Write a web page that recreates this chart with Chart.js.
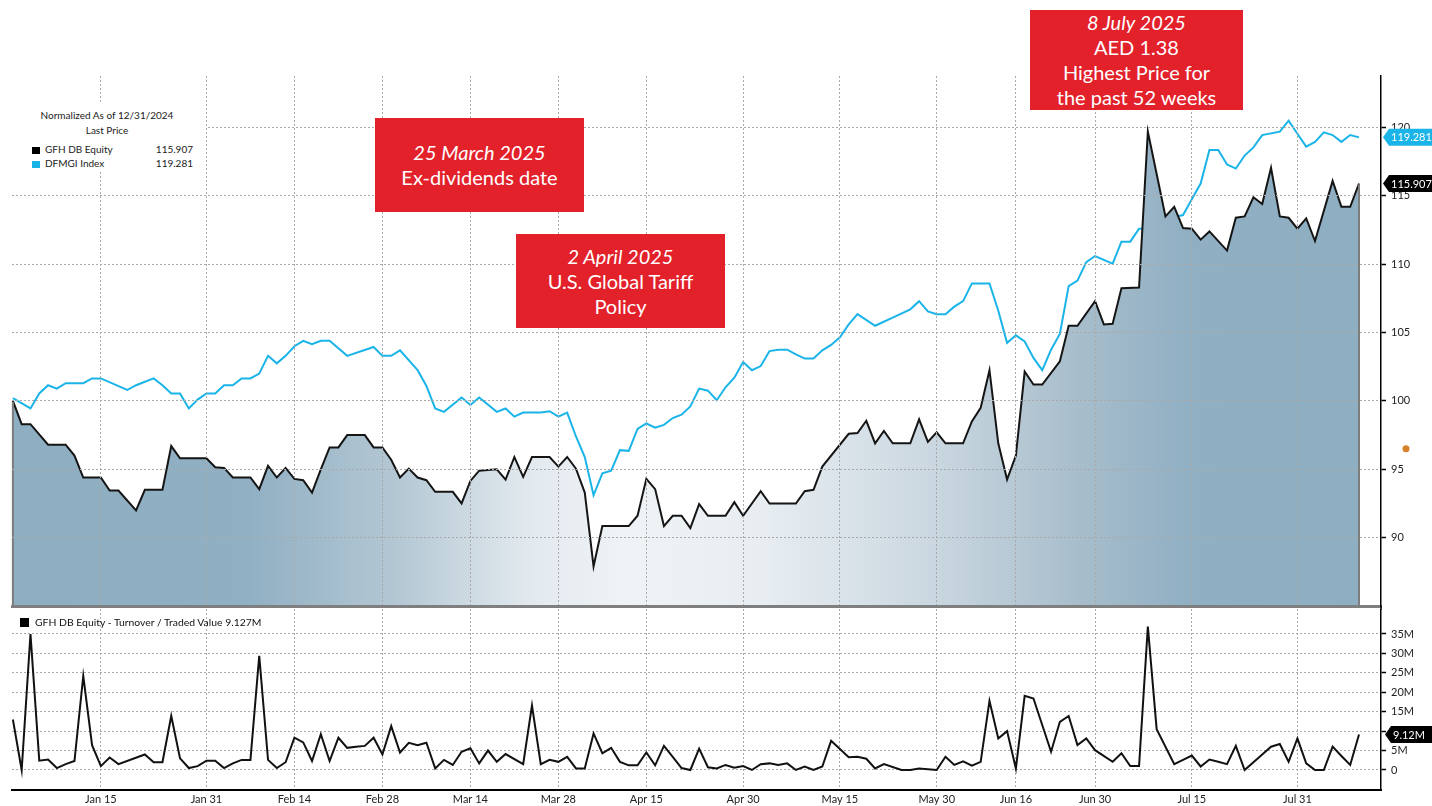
<!DOCTYPE html>
<html>
<head>
<meta charset="utf-8">
<script src="https://cdn.jsdelivr.net/npm/chart.js@4.4.1/dist/chart.umd.min.js"></script>
<style>
  body { margin: 0; background: #fff; width: 1432px; height: 806px; overflow: hidden; position: relative; font-family: Lato, "Open Sans", sans-serif; }
  canvas { position: absolute; left: 0; }
  #main { top: 0; z-index: 2; }
  #vol { top: 609px; z-index: 1; }
  .note { position: absolute; z-index: 5; background: #e2212b; color: #fff; font-size: 20px; line-height: 25px; text-align: center; display: flex; flex-direction: column; justify-content: center; }
  .note i { font-style: italic; }
  #legend { position: absolute; z-index: 4; left: 0; top: 104px; width: 206px; height: 68px; background: #fff; font-size: 10px; color: #222; }
  #legend .c { position: absolute; left: 0; width: 214px; text-align: center; }
  #legend .r { position: absolute; left: 32px; width: 161px; height: 12px; line-height: 12px; }
  #legend .sq { display: inline-block; width: 8px; height: 7px; margin-right: 5px; vertical-align: -0.5px; }
  #legend .v { float: right; }
  #volLegend { position: absolute; z-index: 4; left: 20px; top: 616px; font-size: 10.4px; line-height: 13px; color: #111; }
  #volLegend span { display: inline-block; width: 9px; height: 9px; background: #000; margin-right: 6px; vertical-align: -1px; }
</style>
</head>
<body>
<canvas id="main" width="1432" height="610"></canvas>
<canvas id="vol" width="1432" height="197"></canvas>

<div id="legend">
  <div class="c" style="top:5px">Normalized As of 12/31/2024</div>
  <div class="c" style="top:20px">Last Price</div>
  <div class="r" style="top:39px"><span class="sq" style="background:#000"></span>GFH DB Equity<span class="v">115.907</span></div>
  <div class="r" style="top:53px"><span class="sq" style="background:#1ab4e8"></span>DFMGI Index<span class="v">119.281</span></div>
</div>
<div id="volLegend"><span></span>GFH DB Equity - Turnover / Traded Value 9.127M</div>

<div class="note" style="left:375px;top:118px;width:209px;height:94px"><i>25 March 2025</i>Ex-dividends date</div>
<div class="note" style="left:516px;top:234px;width:209px;height:94px"><i>2 April 2025</i>U.S. Global Tariff<br>Policy</div>
<div class="note" style="left:1030px;top:10px;width:213px;height:100px"><i>8 July 2025</i>AED 1.38<br>Highest Price for<br>the past 52 weeks</div>

<script>
// x = trading session number counted from 31 Dec 2024
const tickDay = [10, 22, 32, 42, 52, 62, 72, 83, 94, 105, 114, 123, 134, 146];
const tickText = ["Jan 15", "Jan 31", "Feb 14", "Feb 28", "Mar 14", "Mar 28", "Apr 15", "Apr 30", "May 15", "May 30", "Jun 16", "Jun 30", "Jul 15", "Jul 31"];
const priceTicks = [90, 95, 100, 105, 110, 115, 120];
const volTicks = [0, 5, 10, 15, 20, 25, 30, 35];

// GFH DB Equity, normalized price
const gfhPrice = [
  [0,100],[1,98.3],[2,98.3],[4,96.8],[6,96.8],[7,96.0],[8,94.4],[10,94.4],[11,93.45],[12,93.45],[14,92.0],[15,93.5],[17,93.5],
  [18,96.7],[19,95.8],[22,95.8],[23,95.15],[24,95.1],[25,94.4],[27,94.4],[28,93.55],[29,95.25],[30,94.4],[31,95.1],[32,94.3],
  [33,94.2],[34,93.3],[35,95.0],[36,96.6],[37,96.6],[38,97.5],[40,97.5],[41,96.6],[42,96.6],[43,95.7],[44,94.4],[45,95.05],
  [46,94.4],[47,94.2],[48,93.35],[50,93.35],[51,92.5],[52,94.15],[53,94.9],[55,95.0],[56,94.25],[57,95.9],[58,94.45],[59,95.9],
  [61,95.9],[62,95.2],[63,95.9],[64,95.05],[65,93.3],[66,87.9],[67,90.85],[70,90.85],[71,91.6],[72,94.3],[73,93.55],[74,90.85],
  [75,91.6],[76,91.6],[77,90.7],[78,92.45],[79,91.6],[81,91.6],[82,92.6],[83,91.6],[85,93.4],[86,92.5],[89,92.5],[90,93.4],
  [91,93.5],[92,95.2],[95,97.6],[96,97.65],[97,98.55],[98,96.9],[99,97.8],[100,96.9],[102,96.9],[103,98.65],[104,97.0],[105,97.7],
  [106,96.9],[108,96.9],[109,98.5],[110,99.5],[111,102.25],[112,96.9],[113,94.25],[114,96.0],[115,102.15],[116,101.2],[117,101.2],
  [119,102.9],[120,105.5],[121,105.5],[123,107.3],[124,105.6],[125,105.65],[126,108.25],[128,108.3],[129,119.7],[130,116.6],
  [131,113.5],[132,114.2],[133,112.65],[134,112.6],[135,111.8],[136,112.4],[138,111.0],[139,113.4],[140,113.5],[141,114.9],
  [142,114.4],[143,117.05],[144,113.5],[145,113.4],[146,112.6],[147,113.35],[148,111.7],[150,116.1],[151,114.2],[152,114.2],[153,115.907]
];

// DFMGI Index, normalized
const dfmgiPrice = [
  [0,100.2],[2,99.45],[3,100.55],[4,101.15],[5,100.9],[6,101.3],[8,101.3],[9,101.65],[10,101.65],[13,100.8],[14,101.15],[16,101.65],
  [17,101.15],[18,100.55],[19,100.55],[20,99.45],[21,100.1],[22,100.55],[23,100.55],[24,101.15],[25,101.15],[26,101.65],[27,101.65],
  [28,102.0],[29,103.3],[30,102.75],[31,103.3],[32,104.0],[33,104.4],[34,104.15],[35,104.4],[36,104.4],[38,103.3],[41,103.95],
  [42,103.3],[43,103.3],[44,103.7],[46,102.25],[47,101.1],[48,99.45],[49,99.2],[51,100.25],[52,99.7],[53,100.25],[55,99.2],
  [56,99.45],[57,98.85],[58,99.15],[60,99.15],[61,99.25],[62,98.85],[63,99.15],[64,97.4],[65,95.9],[66,93.1],[67,94.7],[68,94.9],
  [69,96.4],[70,96.35],[71,97.95],[72,98.35],[73,98.05],[74,98.25],[75,98.75],[76,99.0],[77,99.6],[78,100.9],[79,100.75],
  [80,100.05],[81,101.0],[82,101.7],[83,102.85],[84,102.25],[85,102.55],[86,103.65],[87,103.75],[88,103.75],[89,103.4],[90,103.1],
  [91,103.1],[92,103.7],[93,104.1],[94,104.65],[95,105.6],[96,106.35],[98,105.5],[100,106.1],[102,106.7],[103,107.3],[104,106.55],
  [105,106.35],[106,106.35],[107,106.9],[108,107.3],[109,108.6],[111,108.6],[112,106.6],[113,104.25],[114,104.8],[115,104.35],
  [116,103.15],[117,102.25],[118,103.75],[119,104.9],[120,108.4],[121,108.8],[122,110.15],[123,110.6],[125,110.05],[126,111.65],
  [127,111.65],[128,112.6],[129,112.6],[130,113.2],[131,112.95],[132,113.45],[133,113.6],[134,114.75],[135,115.9],[136,118.35],
  [137,118.35],[138,117.3],[139,117.0],[140,117.95],[141,118.55],[142,119.45],[144,119.7],[145,120.5],[146,119.55],[147,118.6],
  [148,118.95],[149,119.65],[150,119.45],[151,118.95],[152,119.45],[153,119.281]
];

// Turnover / traded value, millions
const turnover = [
  [0,13.0],[1,0],[2,35.0],[3,2.4],[4,2.7],[5,0.5],[6,1.5],[7,2.3],[8,24.2],[9,6.4],[10,1.0],[11,3.2],[12,1.5],[15,4.0],[16,2.0],
  [17,2.0],[18,13.9],[19,3.0],[20,0.5],[21,1.0],[22,2.4],[23,2.4],[24,0.5],[25,1.7],[26,2.6],[27,2.6],[28,29.4],[29,2.6],[30,0.5],
  [31,2.0],[32,8.3],[33,7.1],[34,2.3],[35,9.2],[36,2.3],[37,8.3],[38,5.7],[39,6.0],[40,6.2],[41,8.3],[42,4.0],[43,11.3],[44,4.5],
  [45,7.0],[46,6.4],[47,7.0],[48,0.4],[49,2.6],[50,1.3],[51,4.7],[52,5.6],[53,1.7],[54,5.0],[55,2.1],[56,4.1],[58,1.5],[59,16.6],
  [60,1.5],[61,2.6],[62,2.1],[63,3.4],[64,0.4],[65,0.4],[66,9.4],[67,4.3],[68,5.7],[69,2.1],[70,1.2],[71,1.2],[72,4.5],[73,1.2],
  [74,6.2],[75,3.4],[76,0.5],[77,0],[78,5.5],[79,0.7],[80,0.4],[81,1.3],[82,0.6],[83,1.0],[84,0],[85,1.5],[86,1.7],[87,1.3],
  [88,1.7],[89,0],[90,0.9],[91,0],[92,0.9],[93,7.5],[95,3.3],[96,3.4],[97,2.9],[98,0.4],[99,1.5],[101,0],[102,0],[103,0.4],[105,0],
  [106,3.4],[107,1.3],[108,2.2],[109,1.1],[110,2.1],[111,17.8],[112,8.1],[113,10.0],[114,0.4],[115,19.1],[116,18.4],[118,4.7],
  [119,12.4],[120,13.9],[121,6.4],[122,8.1],[123,5.1],[125,2.1],[126,4.3],[127,1.0],[128,1.0],[129,36.9],[130,10.5],[132,1.5],
  [133,2.6],[134,3.7],[135,0.9],[136,2.7],[137,2.1],[138,1.5],[139,6.2],[140,0],[141,2.0],[142,4.0],[143,6.0],[144,6.7],[145,2.1],
  [146,8.1],[147,1.7],[148,0],[149,0],[150,6.0],[151,3.6],[152,1.3],[153,9.127]
];

const lastGfh = "115.907";
const lastDfmgi = "119.281";
const lastTurnover = "9.12M";
const orangeMark = 96.5;

const xMin = -0.1, xMax = 155.5;
const font = { family: "Lato", size: 11 };
const gridGrey = "#a9a9a9";

const toXY = (arr) => arr.map((p) => ({ x: p[0], y: p[1] }));

// horizontal shading of the area under GFH
const fillStops = [
  [0, "#8eaec2"], [0.17, "#90afc3"], [0.28, "#b3c7d3"], [0.38, "#e3eaef"], [0.45, "#eff3f6"],
  [0.55, "#e7edf1"], [0.67, "#cbd8e1"], [0.78, "#a7bdcb"], [0.86, "#90afc3"], [1, "#8eaec2"]
];
function areaFill(chart) {
  const a = chart.chartArea;
  if (!a) return "#a0b8c8";
  const g = chart.ctx.createLinearGradient(a.left, 0, a.right, 0);
  fillStops.forEach((s) => g.addColorStop(s[0], s[1]));
  return g;
}

// keep the plot box where the picture has it: no room kept for half label heights
function fixY(width) {
  return (s) => {
    s.width = width;
    s.paddingTop = 0;
    s.paddingBottom = 0;
  };
}

function drawTag(ctx, x, y, text, bg) {
  ctx.save();
  ctx.fillStyle = bg;
  ctx.beginPath();
  ctx.moveTo(x, y);
  ctx.lineTo(x + 6, y - 8.5);
  ctx.lineTo(1432, y - 8.5);
  ctx.lineTo(1432, y + 8.5);
  ctx.lineTo(x + 6, y + 8.5);
  ctx.closePath();
  ctx.fill();
  ctx.fillStyle = "#fff";
  ctx.font = "11px Lato";
  ctx.textAlign = "left";
  ctx.textBaseline = "middle";
  ctx.fillText(text, x + 8, y + 0.5);
  ctx.restore();
}

const mainExtras = {
  id: "mainExtras",
  afterDatasetsDraw(chart) {
    const pts = chart.getDatasetMeta(0).data;
    const ctx = chart.ctx, a = chart.chartArea;
    ctx.save();
    ctx.strokeStyle = "#7d7d7d";
    ctx.lineWidth = 2;
    [pts[0], pts[pts.length - 1]].forEach((p) => {
      ctx.beginPath();
      ctx.moveTo(p.x, p.y + 1);
      ctx.lineTo(p.x, a.bottom);
      ctx.stroke();
    });
    ctx.restore();
  },
  afterDraw(chart) {
    const ctx = chart.ctx, y = chart.scales.y, a = chart.chartArea;
    drawTag(ctx, a.right + 2, y.getPixelForValue(parseFloat(lastDfmgi)), lastDfmgi, "#1ab4e8");
    drawTag(ctx, a.right + 2, y.getPixelForValue(parseFloat(lastGfh)), lastGfh, "#000");
    ctx.save();
    ctx.fillStyle = "#d9822b";
    ctx.beginPath();
    ctx.arc(a.right + 25, y.getPixelForValue(orangeMark), 3.5, 0, Math.PI * 2);
    ctx.fill();
    // carry the right axis line down across the gap to the lower panel
    ctx.strokeStyle = "#000";
    ctx.lineWidth = 1.5;
    ctx.beginPath();
    ctx.moveTo(a.right, a.bottom);
    ctx.lineTo(a.right, chart.height);
    ctx.stroke();
    ctx.restore();
  }
};

const volExtras = {
  id: "volExtras",
  afterDraw(chart) {
    const y = chart.scales.y, a = chart.chartArea;
    drawTag(chart.ctx, a.right + 4, y.getPixelForValue(parseFloat(lastTurnover)), lastTurnover, "#000");
  }
};

const mainChart = new Chart(document.getElementById("main"), {
  type: "line",
  data: {
    datasets: [
      {
        label: "GFH DB Equity",
        data: toXY(gfhPrice),
        borderColor: "#151515",
        borderWidth: 2,
        pointRadius: 0,
        tension: 0,
        fill: "start",
        backgroundColor: (c) => areaFill(c.chart),
      },
      {
        label: "DFMGI Index",
        data: toXY(dfmgiPrice),
        borderColor: "#1ab4e8",
        borderWidth: 2,
        pointRadius: 0,
        tension: 0,
        fill: false,
      },
    ],
  },
  options: {
    responsive: false,
    animation: false,
    layout: { padding: { left: 12, top: 76, right: 0, bottom: 4 } },
    plugins: { legend: { display: false }, tooltip: { enabled: false } },
    scales: {
      x: {
        type: "linear",
        min: xMin,
        max: xMax,
        afterBuildTicks: (s) => { s.ticks = tickDay.map((v) => ({ value: v })); },
        ticks: { display: false },
        grid: { color: gridGrey, drawTicks: false, z: 1 },
        border: { display: true, color: "#7f7f7f", width: 3, dash: [2, 2], z: 1 },
      },
      y: {
        position: "right",
        min: 85,
        max: 123.77,
        afterBuildTicks: (s) => { s.ticks = priceTicks.map((v) => ({ value: v })); },
        afterFit: fixY(51),
        ticks: { color: "#222", font: font, padding: 5 },
        grid: { color: gridGrey, z: 1, tickColor: "#000", tickLength: 5, tickWidth: 1.5, tickBorderDash: [] },
        border: { display: true, color: "#000", width: 1.5, dash: [2, 2], z: 1 },
      },
    },
  },
  plugins: [mainExtras],
});

const volChart = new Chart(document.getElementById("vol"), {
  type: "line",
  data: {
    datasets: [
      {
        label: "GFH DB Equity - Turnover / Traded Value",
        data: toXY(turnover),
        borderColor: "#111",
        borderWidth: 2,
        pointRadius: 0,
        tension: 0,
        fill: false,
      },
    ],
  },
  options: {
    responsive: false,
    animation: false,
    layout: { padding: { left: 12, top: 0, right: 0, bottom: 0 } },
    plugins: { legend: { display: false }, tooltip: { enabled: false } },
    scales: {
      x: {
        type: "linear",
        min: xMin,
        max: xMax,
        afterBuildTicks: (s) => { s.ticks = tickDay.map((v) => ({ value: v })); },
        afterFit: (s) => { s.height = 16; },
        ticks: {
          color: "#222",
          font: font,
          padding: 3,
          autoSkip: false,
          maxRotation: 0,
          callback: (v) => tickText[tickDay.indexOf(v)],
        },
        grid: { color: gridGrey, drawTicks: false },
        border: { display: true, color: "#000", width: 2, dash: [2, 2] },
      },
      y: {
        position: "right",
        min: -5.15,
        max: 41.43,
        afterBuildTicks: (s) => { s.ticks = volTicks.map((v) => ({ value: v })); },
        afterFit: fixY(51),
        ticks: { color: "#222", font: font, padding: 5, callback: (v) => (v === 0 ? "0" : v + "M") },
        grid: { color: gridGrey, tickColor: "#000", tickLength: 5, tickWidth: 1.5, tickBorderDash: [] },
        border: { display: true, color: "#000", width: 1.5, dash: [2, 2] },
      },
    },
  },
  plugins: [volExtras],
});
</script>
</body>
</html>
